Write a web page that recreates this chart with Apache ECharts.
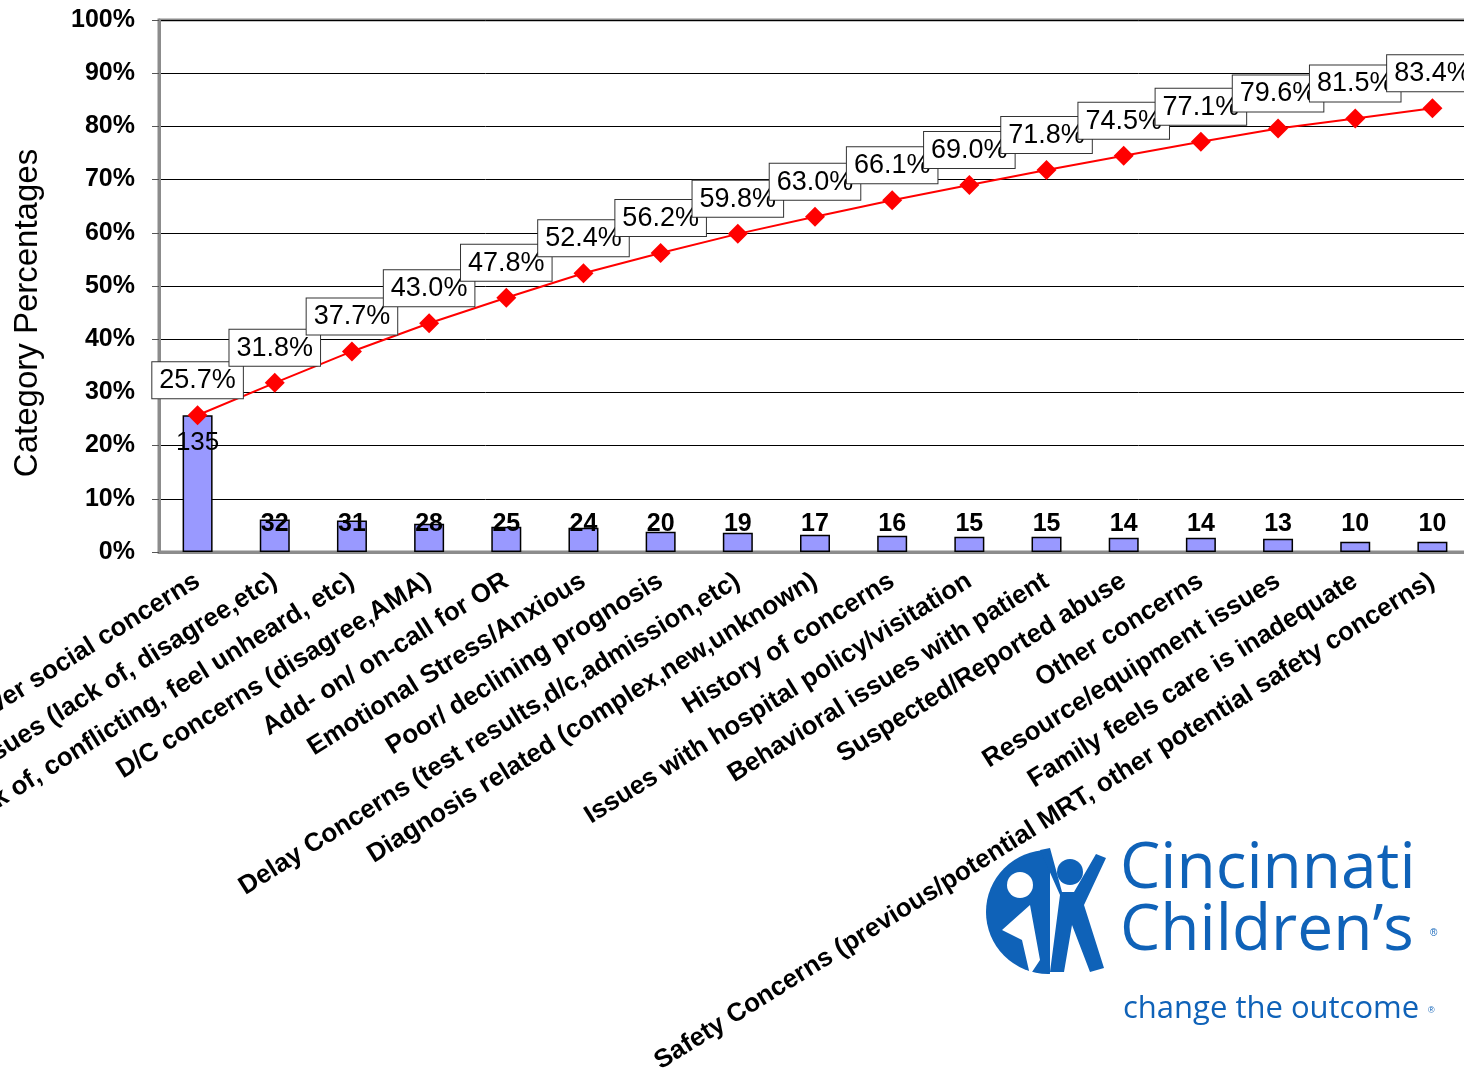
<!DOCTYPE html>
<html style="height: 100%">
    <head>
        <meta charset="utf-8">
    </head>
    <body style="height: 100%; margin: 0; background: #fff;">
        <div id="container" style="width: 1464px; height: 1088px;"></div>
        <script src="https://cdn.jsdelivr.net/npm/echarts@6/dist/echarts.min.js"></script>
        <script>
        var categories = [
            'Caregiver social concerns',
            'Plan of care issues (lack of, disagree,etc)',
            'Communication (lack of, conflicting, feel unheard, etc)',
            'D/C concerns (disagree,AMA)',
            'Add- on/ on-call for OR',
            'Emotional Stress/Anxious',
            'Poor/ declining prognosis',
            'Delay Concerns (test results,d/c,admission,etc)',
            'Diagnosis related (complex,new,unknown)',
            'History of concerns',
            'Issues with hospital policy/visitation',
            'Behavioral issues with patient',
            'Suspected/Reported abuse',
            'Other concerns',
            'Resource/equipment issues',
            'Family feels care is inadequate',
            'Safety Concerns (previous/potential MRT, other potential safety concerns)'
        ];
        var counts = [135, 32, 31, 28, 25, 24, 20, 19, 17, 16, 15, 15, 14, 14, 13, 10, 10];
        var cumulativePct = [25.7, 31.8, 37.7, 43.0, 47.8, 52.4, 56.2, 59.8, 63.0, 66.1, 69.0, 71.8, 74.5, 77.1, 79.6, 81.5, 83.4];
        var totalCount = 525;   // all cases, 135 = 25.7%
        var yTicks = [0, 100, 10];

        var chart = echarts.init(document.getElementById('container'));
        var font = 'Liberation Sans, Arial, sans-serif';
        var blue = '#0f62b8';

        var barData = counts.map(function (c, i) {
            return {
                value: c / totalCount * 100,
                count: c,
                label: i === 0
                    ? { position: 'insideTop', distance: 15, fontWeight: 'normal', fontSize: 26 }
                    : { position: 'insideBottom', distance: 15 }
            };
        });

        // logo, bottom right (its white box hides a bit of the last label, as in the slide)
        var logo = [
            { type: 'rect', shape: { x: 992, y: 850, width: 472, height: 238 }, style: { fill: '#fff' } },
            { type: 'circle', shape: { cx: 1048, cy: 912, r: 62 }, style: { fill: blue } },
            { type: 'rect', shape: { x: 1050, y: 846, width: 70, height: 135 }, style: { fill: '#fff' } },
            { type: 'circle', shape: { cx: 1070, cy: 872, r: 13 }, style: { fill: blue } },
            { type: 'polygon', shape: { points: [[1040, 850], [1060, 895], [1050, 972], [1064, 972], [1072, 925], [1090, 972], [1104, 968], [1084, 905], [1106, 858], [1096, 854], [1074, 892], [1062, 892], [1050, 848]] }, style: { fill: blue } },
            { type: 'circle', shape: { cx: 1020, cy: 885, r: 13 }, style: { fill: '#fff' } },
            { type: 'polygon', shape: { points: [[1002, 930], [1030, 905], [1040, 960], [1030, 975], [1022, 940]] }, style: { fill: '#fff' } },
            { type: 'text', left: 1120, top: 838, style: { text: 'Cincinnati', font: '64px "Open Sans", sans-serif', fill: blue } },
            { type: 'text', left: 1120, top: 900, style: { text: 'Children\u2019s', font: '64px "Open Sans", sans-serif', fill: blue } },
            { type: 'text', left: 1430, top: 928, style: { text: '\u00ae', font: '10px sans-serif', fill: blue } },
            { type: 'text', left: 1123, top: 994, style: { text: 'change the outcome', font: '31px "Open Sans", sans-serif', fill: blue } },
            { type: 'text', left: 1428, top: 1006, style: { text: '\u00ae', font: '9px sans-serif', fill: blue } }
        ];

        var option = {
            animation: false,
            textStyle: { fontFamily: font },
            grid: {
                left: 159, top: 20, right: -7, bottom: 536,
                outerBoundsMode: 'none',
                containLabel: false,
                show: true, borderColor: '#8c8c8c', borderWidth: 3
            },
            xAxis: {
                type: 'category',
                data: categories,
                axisLine: { lineStyle: { color: '#8c8c8c', width: 3 } },
                axisTick: { length: 8, lineStyle: { color: '#555', width: 1.5 } },
                axisLabel: {
                    interval: 0, rotate: 32, margin: 27,
                    color: '#000', fontSize: 26, fontWeight: 'bold', fontFamily: font
                }
            },
            yAxis: {
                type: 'value',
                min: yTicks[0], max: yTicks[1], interval: yTicks[2],
                name: 'Category Percentages',
                nameLocation: 'middle',
                nameGap: 115,
                nameTextStyle: { fontSize: 33, color: '#000', fontFamily: font, padding: [0, 54, 0, 0] },
                axisLine: { show: true, lineStyle: { color: '#8c8c8c', width: 3 } },
                axisTick: { show: true, length: 7, lineStyle: { color: '#555' } },
                axisLabel: {
                    formatter: '{value}%', margin: 24,
                    color: '#000', fontSize: 25, fontWeight: 'bold', fontFamily: font
                },
                splitLine: { lineStyle: { color: '#000', width: 1 } }
            },
            series: [{
                type: 'bar',
                data: barData,
                barWidth: 30,
                itemStyle: { color: '#9999ff', borderColor: '#000', borderWidth: 1.5 },
                label: {
                    show: true, color: '#000', fontSize: 25, fontWeight: 'bold', fontFamily: font,
                    formatter: function (p) { return p.data.count; }
                },
                z: 2
            }, {
                type: 'line',
                data: cumulativePct,
                symbol: 'diamond',
                symbolSize: 20,
                lineStyle: { color: '#ff0000', width: 2 },
                itemStyle: { color: '#ff0000' },
                label: {
                    show: true, position: 'top', distance: 7,
                    formatter: function (p) { return p.value.toFixed(1) + '%'; },
                    color: '#000', fontSize: 27, fontFamily: font,
                    backgroundColor: '#fff', borderColor: '#333', borderWidth: 1,
                    padding: [5, 7, 4, 7]
                },
                z: 3
            }],
            graphic: logo
        };

        chart.setOption(option);
        </script>
    </body>
</html>
